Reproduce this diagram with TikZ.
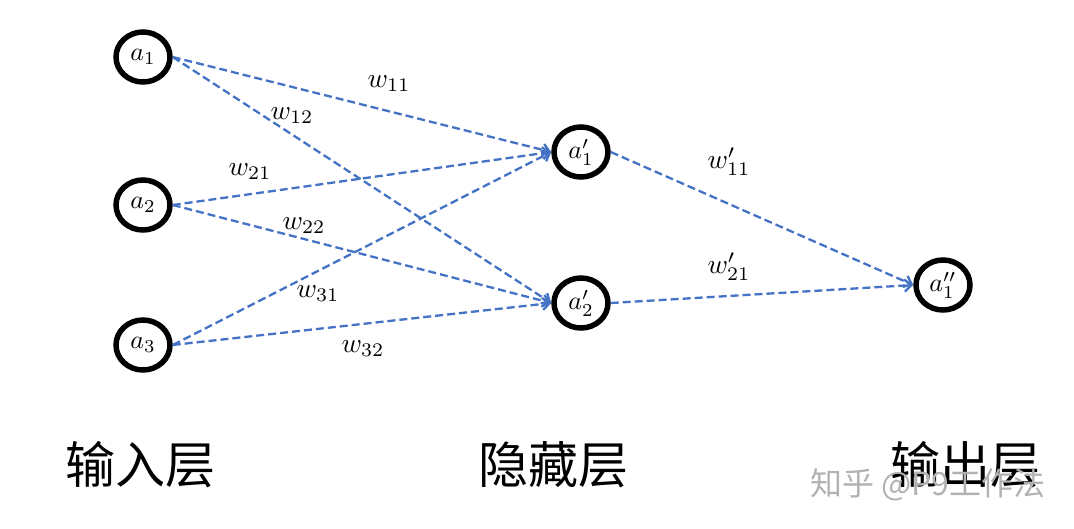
\documentclass[tikz,border=0pt]{standalone}
\usepackage{fontspec}
\newfontfamily\cjk{Noto Sans CJK SC}
\usetikzlibrary{arrows.meta,shapes.geometric}
\definecolor{edgeblue}{RGB}{68,114,196}
\newcommand\mylabelbig[1]{\scalebox{2.6}{$#1$}}
\newcommand\mywlab[1]{\scalebox{2.75}{$#1$}}
\begin{document}
\begin{tikzpicture}[x=1pt,y=-1pt,
  neuron/.style={ellipse,draw=black,line width=5.5pt,minimum width=54pt,minimum height=50pt,inner sep=0pt},
  conn/.style={draw=edgeblue,dashed,dash pattern=on 8pt off 4pt,line width=2.3pt,-{Straight Barb[length=7pt,width=12pt]}},
  wlab/.style={inner sep=0pt},
  layer/.style={font=\cjk\fontsize{50}{56}\selectfont,inner sep=0pt},
  wmark/.style={font=\cjk\fontsize{32}{36}\selectfont,text=black!30,inner sep=0pt}]
\useasboundingbox (0,0) rectangle (1074,528);
\node[neuron] (a1) at (143,57) {\mylabelbig{a_1}};
\node[neuron] (a2) at (143,205) {\mylabelbig{a_2}};
\node[neuron] (a3) at (143,345) {\mylabelbig{a_3}};
\node[neuron] (h1) at (581,152) {\mylabelbig{a'_1}};
\node[neuron] (h2) at (581,303) {\mylabelbig{a'_2}};
\node[neuron] (o1) at (943,285) {\mylabelbig{a''_1}};
\draw[conn] (a1.east) -- (h1.west);
\draw[conn] (a1.east) -- (h2.west);
\draw[conn] (a2.east) -- (h1.west);
\draw[conn] (a2.east) -- (h2.west);
\draw[conn] (a3.east) -- (h1.west);
\draw[conn] (a3.east) -- (h2.west);
\draw[conn] (h1.east) -- (o1.west);
\draw[conn] (h2.east) -- (o1.west);
\node[wlab] (w11) at (389,84) {\mywlab{w_{11}}};
\node[wlab] (w12) at (292,116) {\mywlab{w_{12}}};
\node[wlab] (w21) at (250,172) {\mywlab{w_{21}}};
\node[wlab] (w22) at (304,226) {\mywlab{w_{22}}};
\node[wlab] (w31) at (318,294) {\mywlab{w_{31}}};
\node[wlab] (w32) at (363,349) {\mywlab{w_{32}}};
\node[wlab] (v11) at (729,162) {\mywlab{w'_{11}}};
\node[wlab] (v21) at (729,267) {\mywlab{w'_{21}}};
\node[layer] (in) at (140,465) {输入层};
\node[layer] (hid) at (553,465) {隐藏层};
\node[layer] (out) at (965,465) {输出层};
\node[wmark] (wm) at (928,485) {知乎 @P9工作法};
\end{tikzpicture}
\end{document}
